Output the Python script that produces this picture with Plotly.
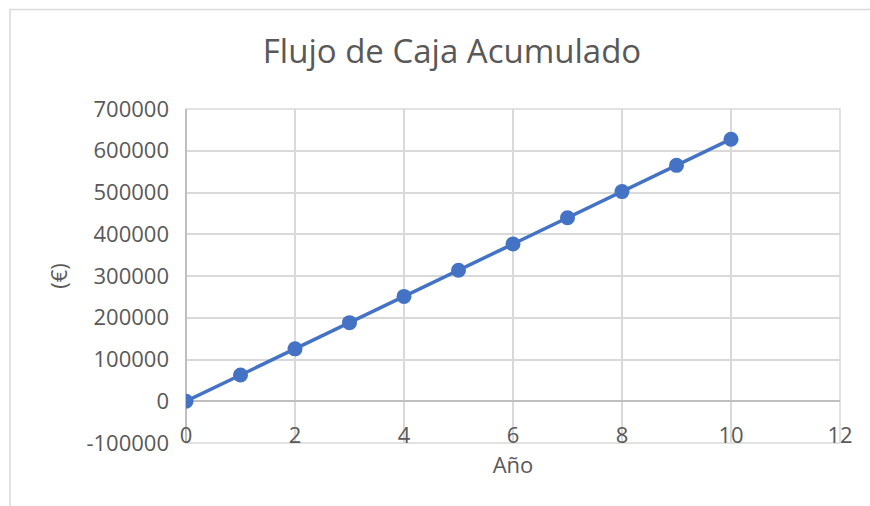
import plotly.graph_objects as go

# Cumulative cash flow per year
anios = [0, 1, 2, 3, 4, 5, 6, 7, 8, 9, 10]
flujo_acumulado = [0, 62800, 125500, 188300, 251100, 313900, 376600, 439400, 502200, 565000, 627700]

x_ticks = [0, 2, 4, 6, 8, 10, 12]
y_ticks = [-100000, 0, 100000, 200000, 300000, 400000, 500000, 600000, 700000]

W, H = 870, 506
L, R, T, B = 186, 30, 109, 63

FONT = "Open Sans"
TXT = "#595959"
GRID = "#d9d9d9"
AXIS = "#bfbfbf"
BLUE = "#4472C4"

fig = go.Figure()
fig.add_trace(go.Scatter(
    x=anios, y=flujo_acumulado, mode="lines+markers",
    line=dict(color=BLUE, width=3.5),
    marker=dict(color=BLUE, size=15),
    showlegend=False, hoverinfo="x+y",
))

pw = W - L - R
ph = H - T - B

def px_to_paper_x(px):
    return (px - L) / pw

def px_to_paper_y(py):
    return (H - B - py) / ph

fig.update_layout(
    width=W, height=H,
    margin=dict(l=L, r=R, t=T, b=B),
    paper_bgcolor="white", plot_bgcolor="white",
    font=dict(family=FONT, color=TXT, size=22),
    title=dict(text="Flujo de Caja Acumulado", x=452 / W, xanchor="center",
               y=1 - 51 / H, yanchor="middle",
               font=dict(family=FONT, size=33, color=TXT)),
    xaxis=dict(
        range=[0, 12], tickvals=x_ticks, ticktext=[str(v) for v in x_ticks],
        anchor="free", position=px_to_paper_y(420),
        showgrid=True, gridcolor=GRID, gridwidth=1.5,
        zeroline=True, zerolinecolor=AXIS, zerolinewidth=2,
        showline=False, ticks="",
        tickfont=dict(family=FONT, size=22, color=TXT),
        title=dict(text="Año", standoff=8, font=dict(family=FONT, size=22, color=TXT)),
    ),
    yaxis=dict(
        range=[-100000, 700000], tickvals=y_ticks, ticktext=[str(v) for v in y_ticks],
        showgrid=True, gridcolor=GRID, gridwidth=1.5,
        zeroline=True, zerolinecolor=AXIS, zerolinewidth=2,
        showline=False, ticks="", ticklabelstandoff=16,
        tickfont=dict(family=FONT, size=22, color=TXT),
        title=dict(text="(€)", standoff=12, font=dict(family=FONT, size=22, color=TXT)),
    ),
    shapes=[
        # plot-area frame
        dict(type="rect", xref="x domain", yref="y domain", layer="below",
             x0=0, x1=1, y0=0, y1=1,
             line=dict(color=GRID, width=1.5), fillcolor="rgba(0,0,0,0)"),
        # chart-area border
        dict(type="rect", xref="paper", yref="paper", layer="below",
             x0=px_to_paper_x(10), x1=px_to_paper_x(W + 20),
             y0=px_to_paper_y(H + 20), y1=px_to_paper_y(9.5),
             line=dict(color=GRID, width=1.5), fillcolor="rgba(0,0,0,0)"),
    ],
)

fig.write_html("out.html")
